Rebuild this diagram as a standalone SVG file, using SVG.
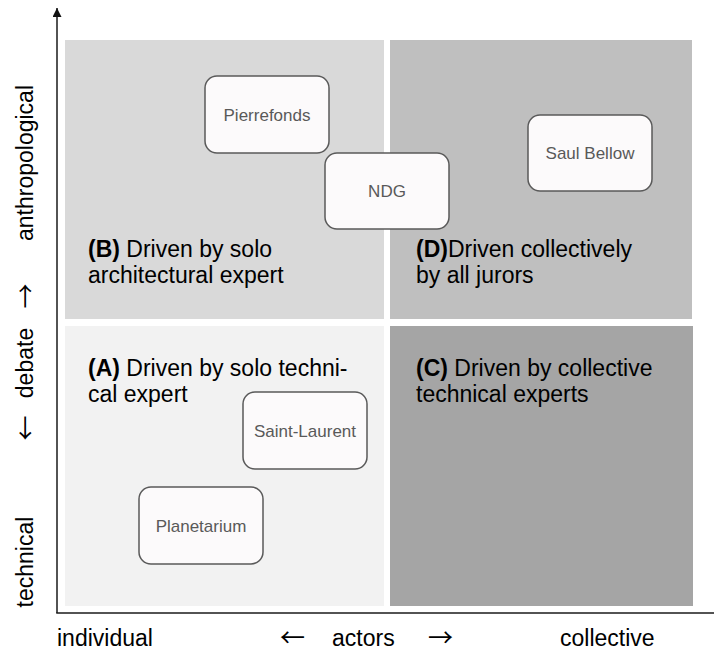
<svg xmlns="http://www.w3.org/2000/svg" width="714" height="655" viewBox="0 0 714 655">
<defs>
<marker id="ah" viewBox="0 0 10 10" refX="10" refY="5" markerWidth="9" markerHeight="9" markerUnits="userSpaceOnUse" orient="auto">
<path d="M0,0 L10,5 L0,10 z" fill="#111"/>
</marker>
<style>
.lbl{font-family:"Liberation Sans",Arial,sans-serif;font-size:23px;fill:#000}
.arr{font-family:"Noto Sans CJK SC","DejaVu Sans",sans-serif;font-size:25px;fill:#000}
.b{font-weight:bold}
.node rect{fill:#fcfafb;stroke:#5a5a5a;stroke-width:1.5}
.node text{font-family:"Liberation Sans",Arial,sans-serif;font-size:17px;fill:#595959;text-anchor:middle}
.axis{stroke:#1a1a1a;stroke-width:1.5;fill:none}
.mid{text-anchor:middle}
</style>
</defs>
<rect width="714" height="655" fill="#ffffff"/>
<g id="quadrants">
<rect id="quad-B" x="65" y="40" width="319" height="279" fill="#d9d9d9"/>
<rect id="quad-D" x="390" y="40" width="302" height="279" fill="#bfbfbf"/>
<rect id="quad-A" x="65" y="326" width="319" height="280" fill="#f2f2f2"/>
<rect id="quad-C" x="390" y="326" width="303" height="280" fill="#a5a5a5"/>
</g>
<g id="quadrant-labels">
<text class="lbl" x="88" y="257"><tspan class="b">(B)</tspan> Driven by solo</text>
<text class="lbl" x="88" y="283">architectural expert</text>
<text class="lbl" x="416" y="257"><tspan class="b">(D)</tspan>Driven collectively</text>
<text class="lbl" x="416" y="283">by all jurors</text>
<text class="lbl" x="88" y="376"><tspan class="b">(A)</tspan> Driven by solo techni-</text>
<text class="lbl" x="88" y="402">cal expert</text>
<text class="lbl" x="416" y="376"><tspan class="b">(C)</tspan> Driven by collective</text>
<text class="lbl" x="416" y="402">technical experts</text>
</g>
<g id="node-pierrefonds" class="node">
<rect x="205" y="76" width="124" height="77" rx="12"/>
<text x="267" y="121">Pierrefonds</text>
</g>
<g id="node-ndg" class="node">
<rect x="325" y="153" width="124" height="76" rx="12"/>
<text x="387" y="197">NDG</text>
</g>
<g id="node-saul-bellow" class="node">
<rect x="528" y="115" width="124" height="76" rx="12"/>
<text x="590" y="159">Saul Bellow</text>
</g>
<g id="node-saint-laurent" class="node">
<rect x="243" y="392" width="124" height="77" rx="12"/>
<text x="305" y="437">Saint-Laurent</text>
</g>
<g id="node-planetarium" class="node">
<rect x="139" y="487" width="124" height="77" rx="12"/>
<text x="201" y="532">Planetarium</text>
</g>
<g id="axes">
<line class="axis" x1="57" y1="613" x2="57" y2="8" marker-end="url(#ah)"/>
<line class="axis" x1="56.25" y1="613" x2="714" y2="613"/>
</g>
<g id="axis-labels">
<text class="lbl" x="57" y="646">individual</text>
<text class="arr" x="280" y="647">←</text>
<text class="lbl" x="332" y="646">actors</text>
<text class="arr" x="428" y="647">→</text>
<text class="lbl" x="560" y="646">collective</text>
<text class="lbl mid" transform="translate(33,163) rotate(-90)">anthropological</text>
<text class="arr mid" transform="translate(35,296) rotate(-90)">→</text>
<text class="lbl mid" transform="translate(33,363) rotate(-90)">debate</text>
<text class="arr mid" transform="translate(35,428) rotate(-90)">←</text>
<text class="lbl mid" transform="translate(33,562) rotate(-90)">technical</text>
</g>
</svg>
